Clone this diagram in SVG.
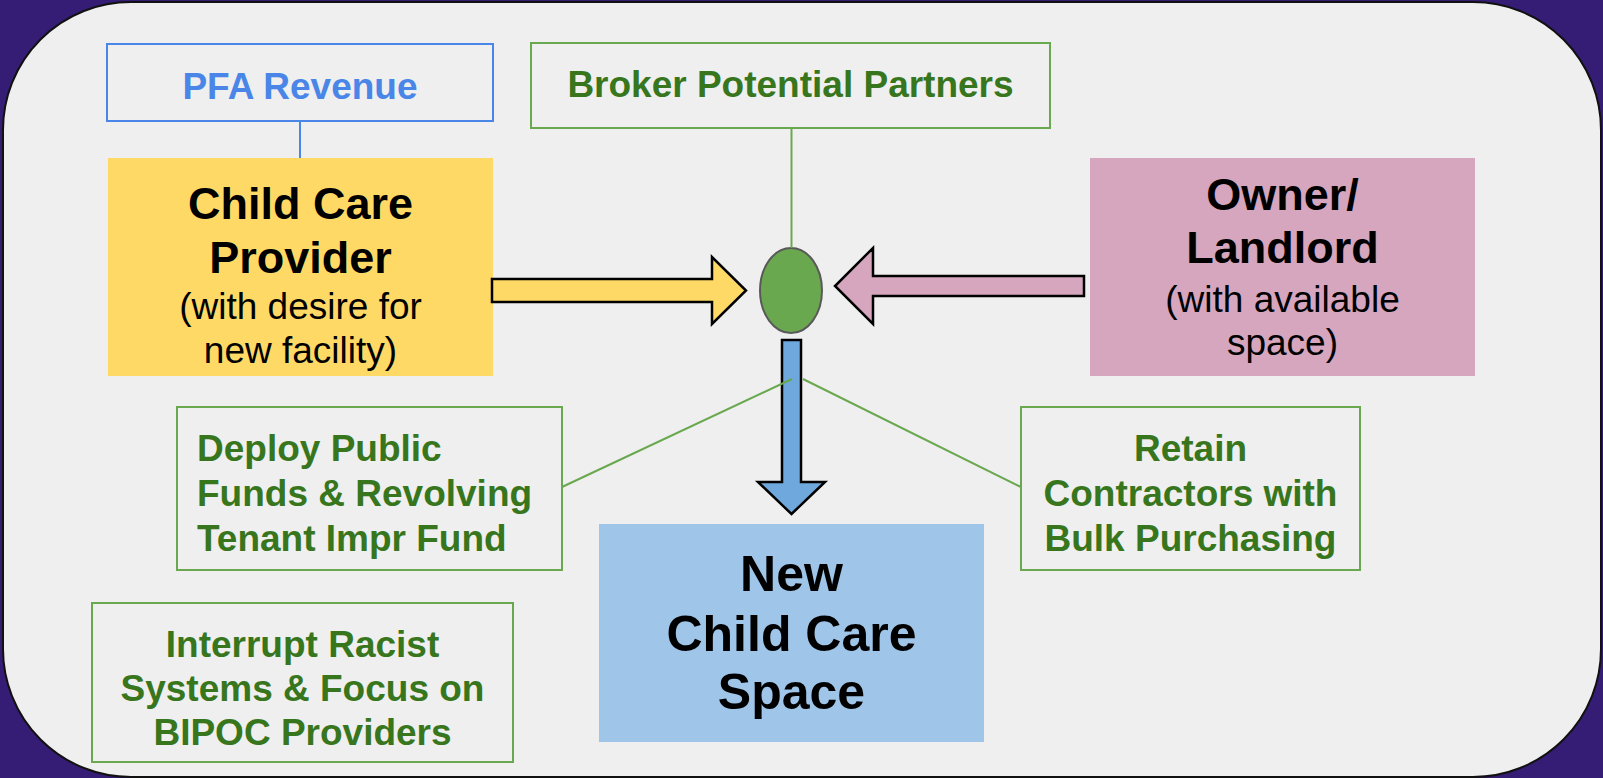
<svg xmlns="http://www.w3.org/2000/svg" width="1603" height="778" viewBox="0 0 1603 778">
  <style>
    text { font-family: "Liberation Sans", Arial, sans-serif; text-anchor: middle; }
    .g { font-size: 37px; font-weight: bold; fill: #38761d; }
    .gbox { fill: none; stroke: #6aa84f; stroke-width: 2; }
    .big { font-size: 45px; font-weight: bold; fill: #000; }
    .sub { font-size: 37px; fill: #000; }
    .conn { stroke: #6aa84f; stroke-width: 2; fill: none; }
    .arrow { stroke: #000; stroke-width: 2.5; stroke-linejoin: miter; }
  </style>
  <rect x="0" y="0" width="1603" height="778" fill="#351c75"/>
  <rect x="3" y="2" width="1598" height="775" rx="128" ry="128" fill="#efefef" stroke="#111" stroke-width="2"/>

  <g id="pfa-revenue">
    <rect x="107" y="44" width="386" height="77" fill="none" stroke="#4a86e8" stroke-width="2"/>
    <text x="300" y="99" style="font-size:37px;font-weight:bold;fill:#4a86e8">PFA Revenue</text>
  </g>

  <g id="child-care-provider">
    <rect x="108" y="158" width="385" height="218" fill="#ffd966"/>
    <text class="big" x="300.5" y="219">Child Care</text>
    <text class="big" x="300.5" y="273">Provider</text>
    <text class="sub" x="300.5" y="319">(with desire for</text>
    <text class="sub" x="300.5" y="363">new facility)</text>
  </g>

  <g id="broker">
    <rect class="gbox" x="531" y="43" width="519" height="85"/>
    <text class="g" x="790.5" y="97">Broker Potential Partners</text>
  </g>

  <g id="owner-landlord">
    <rect x="1090" y="158" width="385" height="218" fill="#d5a6bd"/>
    <text class="big" x="1282.5" y="210">Owner/</text>
    <text class="big" x="1282.5" y="263">Landlord</text>
    <text class="sub" x="1282.5" y="312">(with available</text>
    <text class="sub" x="1282.5" y="355">space)</text>
  </g>

  <g id="deploy">
    <rect class="gbox" x="177" y="407" width="385" height="163"/>
    <text class="g" x="197" y="461" style="text-anchor:start">Deploy Public</text>
    <text class="g" x="197" y="506" style="text-anchor:start">Funds &amp; Revolving</text>
    <text class="g" x="197" y="551" style="text-anchor:start">Tenant Impr Fund</text>
  </g>

  <g id="retain">
    <rect class="gbox" x="1021" y="407" width="339" height="163"/>
    <text class="g" x="1190.5" y="461">Retain</text>
    <text class="g" x="1190.5" y="506">Contractors with</text>
    <text class="g" x="1190.5" y="551">Bulk Purchasing</text>
  </g>

  <g id="interrupt">
    <rect class="gbox" x="92" y="603" width="421" height="159"/>
    <text class="g" x="302.5" y="657">Interrupt Racist</text>
    <text class="g" x="302.5" y="701">Systems &amp; Focus on</text>
    <text class="g" x="302.5" y="745">BIPOC Providers</text>
  </g>

  <g id="new-space">
    <rect x="599" y="524" width="385" height="218" fill="#9fc5e8"/>
    <text x="791.5" y="591" style="font-size:50px;font-weight:bold">New</text>
    <text x="791.5" y="651" style="font-size:50px;font-weight:bold">Child Care</text>
    <text x="791.5" y="709" style="font-size:50px;font-weight:bold">Space</text>
  </g>

  <g id="hub">
    <ellipse cx="791" cy="290.5" rx="31" ry="42.5" fill="#6aa84f" stroke="#595959" stroke-width="2"/>
  </g>

  <g id="connectors">
    <line x1="300" y1="121" x2="300" y2="158" stroke="#4a86e8" stroke-width="2"/>
    <line class="conn" x1="791.5" y1="128" x2="791.5" y2="248"/>
    <polygon class="arrow" fill="#ffd966" points="492,279 712,279 712,257 746,290.5 712,324 712,302 492,302"/>
    <polygon class="arrow" fill="#d5a6bd" points="1084,276 873,276 873,248 835,286 873,324 873,296 1084,296"/>
    <polygon class="arrow" fill="#6fa8dc" points="782,340 801,340 801,482 825,482 791.5,514 758,482 782,482"/>
    <line class="conn" x1="792" y1="379" x2="562" y2="487"/>
    <line class="conn" x1="803" y1="379" x2="1021" y2="487"/>
  </g>
</svg>
